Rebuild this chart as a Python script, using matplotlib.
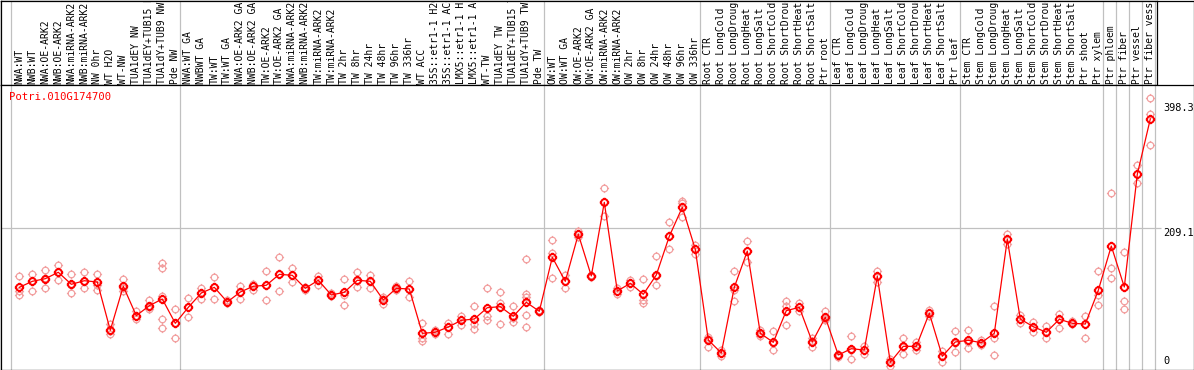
import matplotlib
matplotlib.use("Agg")
import matplotlib.pyplot as plt
from matplotlib.path import Path

# ---------------- data ----------------
gene = "Potri.010G174700"

labels = [
    "NWA:WT", "NWB:WT", "NWA:OE-ARK2", "NWB:OE-ARK2", "NWA:miRNA-ARK2", "NWB:miRNA-ARK2",
    "NW 0hr", "WT H2O", "WT-NW", "TUA1dEY NW", "TUA1dEY+TUB15 NW", "TUA1dY+TUB9 NW", "Pde NW",
    "NWA:WT GA", "NWBWT GA", "TW:WT", "TW:WT GA", "NWA:OE-ARK2 GA", "NWB:OE-ARK2 GA",
    "TW:OE-ARK2", "TW:OE-ARK2 GA", "NWA:miRNA-ARK2 GA", "NWB:miRNA-ARK2 GA", "TW:miRNA-ARK2",
    "TW:miRNA-ARK2", "TW 2hr", "TW 8hr", "TW 24hr", "TW 48hr", "TW 96hr", "TW 336hr", "WT ACC",
    "35S::etr1-1 H2O", "35S::etr1-1 ACC", "LMX5::etr1-1 H2O", "LMX5::etr1-1 ACC", "WT-TW",
    "TUA1dEY TW", "TUA1dEY+TUB15 TW", "TUA1dY+TUB9 TW", "Pde TW",
    "OW:WT", "OW:WT GA", "OW:OE-ARK2", "OW:OE-ARK2 GA", "OW:miRNA-ARK2", "OW:miRNA-ARK2",
    "OW 2hr", "OW 8hr", "OW 24hr", "OW 48hr", "OW 96hr", "OW 336hr",
    "Root CTR", "Root LongCold", "Root LongDrought", "Root LongHeat", "Root LongSalt",
    "Root ShortCold", "Root ShortDrought", "Root ShortHeat", "Root ShortSalt", "Ptr root",
    "Leaf CTR", "Leaf LongCold", "Leaf LongDrought", "Leaf LongHeat", "Leaf LongSalt",
    "Leaf ShortCold", "Leaf ShortDrought", "Leaf ShortHeat", "Leaf ShortSalt", "Ptr leaf",
    "Stem CTR", "Stem LongCold", "Stem LongDrought", "Stem LongHeat", "Stem LongSalt",
    "Stem ShortCold", "Stem ShortDrought", "Stem ShortHeat", "Stem ShortSalt", "Ptr shoot",
    "Ptr xylem", "Ptr phloem", "Ptr fiber", "Ptr vessel", "Ptr fiber vessel",
]

# first index of each sample group (separators drawn before them)
group_starts = [0, 13, 41, 53, 63, 73, 84, 85, 86, 87, 88]

means = [
    119.2, 128.3, 132.3, 142.0, 123.8, 129.2, 127.3, 54.1, 120.8, 76.2, 91.4, 101.5, 64.7,
    88.9, 110.6, 119.2, 97.0, 112.1, 120.8, 122.3, 138.9, 137.4, 117.7, 129.9, 107.6, 111.7,
    129.9, 128.3, 100.0, 117.7, 116.7, 49.5, 51.1, 59.1, 69.2, 71.2, 88.3, 89.9, 75.3, 96.5, 82.9,
    164.7, 128.3, 199.6, 136.4, 248.0, 113.6, 125.3, 108.6, 137.9, 196.5, 240.5, 176.8,
    39.4, 19.7, 119.2, 174.2, 49.5, 35.9, 83.8, 88.9, 36.4, 73.8,
    16.7, 26.2, 24.2, 135.9, 5.6, 29.8, 29.8, 79.9, 14.7, 36.4,
    38.9, 35.3, 49.5, 192.0, 71.2, 59.5, 51.1, 70.8, 64.7, 63.6, 114.7,
    181.8, 119.7, 290.5, 374.3,
]

replicates = [
    [136.4, 114.1, 107.1], [139.4, 113.2, 128.8], [145.0, 117.7, 133.3], [153.0, 130.3, 142.4],
    [139.4, 111.1, 122.7], [142.4, 118.6, 128.8], [138.9, 114.7, 122.7], [63.2, 48.5, 53.0],
    [131.4, 113.2, 118.2], [83.8, 70.8, 75.8], [100.0, 85.9, 89.4],
    [155.6, 148.0, 106.1, 70.8, 57.1], [85.9, 42.0, 65.2],
    [103.5, 74.7, 89.4], [118.2, 101.5, 110.6], [134.4, 102.0, 119.7], [97.0, 100.0, 95.5],
    [121.2, 101.5, 112.1], [124.2, 115.2, 121.2], [143.5, 99.5, 122.7], [165.2, 113.2, 139.4],
    [148.0, 126.8, 137.9], [117.7, 120.2, 115.2], [136.4, 122.7, 130.3], [107.6, 110.2, 106.1],
    [132.3, 92.0, 107.6], [142.4, 120.2, 128.8], [138.3, 118.6, 128.8], [93.5, 104.1, 101.5],
    [121.7, 115.2, 116.7], [128.8, 105.0, 116.7], [64.7, 42.0, 38.3], [54.5, 48.0, 51.5],
    [65.6, 48.0, 59.1], [76.2, 62.1, 69.7], [90.9, 63.6, 56.1], [117.7, 76.2, 69.7],
    [111.7, 95.0, 63.6], [90.9, 66.2, 72.7], [162.1, 108.6, 105.0, 77.3, 59.1],
    [82.9, 84.8, 81.8],
    [190.5, 171.7, 132.9], [138.3, 118.6, 128.8], [204.5, 195.9, 200.0], [136.4, 134.8, 137.9],
    [269.2, 227.3, 248.5], [117.7, 109.1, 113.6], [130.3, 120.2, 125.8], [131.4, 100.0, 95.0],
    [166.2, 122.3, 136.4], [217.7, 176.8, 197.0], [250.0, 226.2, 247.0], [183.3, 169.2, 177.3],
    [44.4, 29.2, 40.9], [24.2, 15.6, 19.7], [143.9, 98.5, 115.2], [189.4, 157.1, 174.2],
    [54.5, 45.9, 48.5], [52.6, 23.8, 34.8], [98.5, 62.1, 90.9], [95.9, 89.4, 83.3],
    [29.2, 37.9, 42.0], [83.3, 69.7, 71.2],
    [14.1, 18.2, 16.7], [45.5, 10.2, 24.2], [30.8, 18.2, 24.2], [144.4, 126.8, 136.4],
    [10.2, 0.5, 6.1], [42.4, 18.2, 28.8], [36.8, 24.2, 28.8], [84.8, 80.3, 75.8],
    [23.2, 6.5, 15.2], [53.0, 21.2, 34.8],
    [54.5, 26.8, 36.4], [39.4, 31.8, 34.8], [90.5, 42.9, 16.2], [199.6, 184.8, 192.4],
    [77.3, 65.6, 71.2], [67.1, 51.1, 59.1], [60.6, 42.9, 51.5], [78.8, 57.1, 71.2],
    [68.6, 63.6, 65.2], [76.2, 42.0, 63.6], [143.5, 107.1, 92.0],
    [261.7, 148.0, 132.9], [172.3, 98.5, 85.9], [304.1, 276.8, 290.9], [405.6, 381.8, 334.4],
]

ytick_values = [0, 209.1, 398.3]
ytick_labels = ["0", "209.1", "398.3"]

# ---------------- layout ----------------
W, H = 1194, 370
fig = plt.figure(figsize=(W / 100, H / 100), dpi=100)
fig.patch.set_facecolor("white")

MONO = "DejaVu Sans Mono"
GRID = "#c0c0c0"
REP = "#f2a0a0"
RED = "#ff0000"


def px2idx(px):
    return (px - 19.3) / 13.0


def fig_rect(x0, y0, x1, y1):
    """pixel box (top-left origin) -> figure fraction rect"""
    return [x0 / W, 1 - y1 / H, (x1 - x0) / W, (y1 - y0) / H]


# outer frame
bg = fig.add_axes(fig_rect(1, 0.5, 1193.5, 369.5))
bg.set_xticks([]); bg.set_yticks([])
bg.patch.set_alpha(0)
for s in bg.spines.values():
    s.set_linewidth(0.9); s.set_color("black")

# label strip
lax = fig.add_axes(fig_rect(1, 0.5, 1157, 85))
lax.set_xlim(px2idx(1), px2idx(1157))
lax.set_ylim(85, 0.5)
lax.set_xticks([]); lax.set_yticks([])
for s in lax.spines.values():
    s.set_linewidth(0.9); s.set_color("black")

# main plot
ax = fig.add_axes(fig_rect(1, 85, 1193.5, 369.5))
ax.set_xlim(px2idx(1), px2idx(1193.5))
y_top = (366 - 85) / 0.66
y_bot = (366 - 369.5) / 0.66
ax.set_ylim(y_bot, y_top)
ax.set_xticks([]); ax.set_yticks([])
for s in ax.spines.values():
    s.set_linewidth(0.9); s.set_color("black")

# group separators
for k in group_starts:
    xb = k - 0.638
    ax.axvline(xb, color=GRID, lw=0.9, zorder=1)
    lax.axvline(xb, color=GRID, lw=0.9, zorder=1)

# horizontal reference line
ax.hlines(ytick_values[1], px2idx(1), px2idx(1161), color=GRID, lw=0.9, zorder=1)

# category labels
for i, lab in enumerate(labels):
    lax.text(i, 83.5, lab, rotation=90, ha="center", va="bottom",
             family=MONO, fontsize=7.0, color="black", clip_on=True)

# y labels
xt = px2idx(1163)
ax.text(xt, ytick_values[2], ytick_labels[2], ha="left", va="top",
        family=MONO, fontsize=7.4, clip_on=True)
ax.text(xt, ytick_values[1], ytick_labels[1], ha="left", va="top",
        family=MONO, fontsize=7.4, clip_on=True)
ax.text(xt, ytick_values[0], ytick_labels[0], ha="left", va="bottom",
        family=MONO, fontsize=7.4, clip_on=True)

# title
fig.text(9 / W, 1 - 100.5 / H, gene, color=RED, family=MONO, fontsize=7.7,
         ha="left", va="baseline")

# marker: circle with four small ticks
circ = Path.circle((0, 0), 1.0)
t = 1.4
ticks = [Path([(0, 1), (0, t)], [Path.MOVETO, Path.LINETO]),
         Path([(0, -1), (0, -t)], [Path.MOVETO, Path.LINETO]),
         Path([(1, 0), (t, 0)], [Path.MOVETO, Path.LINETO]),
         Path([(-1, 0), (-t, 0)], [Path.MOVETO, Path.LINETO])]
mpath = Path.make_compound_path(circ, *ticks)

rx, ry = [], []
for i, vals in enumerate(replicates):
    for v in vals:
        rx.append(i)
        ry.append(v)
ax.plot(rx, ry, ls="none", marker=mpath, ms=6.6, mfc="none", mec=REP, mew=0.9, zorder=3)

ax.plot(range(len(means)), means, color=RED, lw=0.9, zorder=4)
ax.plot(range(len(means)), means, ls="none", marker=mpath, ms=6.8, mfc="none",
        mec=RED, mew=1.4, zorder=5)

fig.savefig("out.png", dpi=100)
